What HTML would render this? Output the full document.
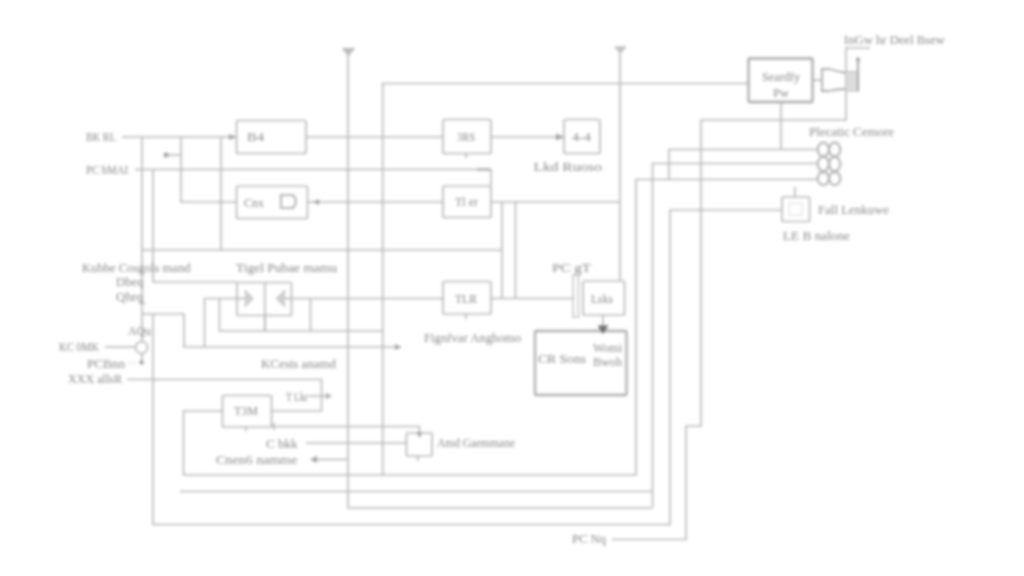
<!DOCTYPE html>
<html><head><meta charset="utf-8"><title>Circuit</title>
<style>
html,body{margin:0;padding:0;background:#fff;width:1024px;height:576px;overflow:hidden}
svg{display:block;filter:blur(1.45px)}
text{font-family:"Liberation Serif",serif;font-size:11.5px;fill:#888888;dominant-baseline:central}
.l{fill:none;stroke:#b6b6b6;stroke-width:1.6}
.b{fill:#fff;stroke:#b8b8b8;stroke-width:1.7}
.bd{fill:#fff;stroke:#acacac;stroke-width:2.3}
.ar{fill:#a2a2a2;stroke:none}
</style></head>
<body>
<svg width="1024" height="576" viewBox="0 0 1024 576">
<g class="l">
<!-- top rails -->
<polyline points="122,137 236,137"/>
<polyline points="306,137 443,137"/>
<polyline points="491,137 564,137"/>
<polyline points="135,169.5 491,169.5 491,186"/>
<polyline points="142,137 142,362"/>
<polyline points="181,137 181,202 236,202"/>
<polyline points="166,155 181,155"/>
<polyline points="221,137 221,250"/>
<polyline points="142,250 502,250"/>
<polyline points="153,169.5 153,282 237,282"/>
<polyline points="348,55 348,508 652.5,508"/>
<polyline points="382.7,475 382.7,83.5 748.5,83.5"/>
<polyline points="620,53 620,282"/>
<polyline points="307,202 443,202"/>
<polyline points="491,202 620,202"/>
<polyline points="502,202 502,298.5"/>
<polyline points="515.5,202 515.5,298.5"/>
<polyline points="204.5,346.5 204.5,298.5 250,298.5"/>
<polyline points="280,298.5 443,298.5"/>
<polyline points="219.5,298.5 219.5,331 382.7,331"/>
<polyline points="310.5,298.5 310.5,331"/>
<polyline points="265,282 265,331"/>
<polyline points="491,298.5 574.5,298.5"/>

<polyline points="603,315 603,328"/>
<polyline points="142,314 184,314 184,347 401,347"/>
<polyline points="153,314 153,524.5 670,524.5 670,210 782,210"/>
<polyline points="105,347 135.5,347"/>
<polyline points="127,379.5 321.5,379.5 321.5,411 271.5,411"/>
<polyline points="183.5,475 183.5,411 222.5,411"/>
<polyline points="271.5,426.5 419.5,426.5 419.5,433"/>
<polyline points="306,443 406,443"/>
<polyline points="316,459.5 348,459.5"/>
<polyline points="183.5,475 636,475 636,179.5 817,179.5"/>
<polyline points="180,491.5 652.5,491.5"/>
<polyline points="652.5,507 652.5,163.5 817,163.5"/>
<polyline points="612,539.5 686,539.5 686,426 701,426 701,120 846,120 846,48 870,48"/>
<polyline points="781,102 781,149.5"/>
<polyline points="669,179.5 669,149.5 817,149.5"/>
<polyline points="812.5,80.2 822,80.2"/>
<polyline points="858,58 858,92"/>
<polyline points="795,187 795,197"/>
<polyline points="417.8,456 417.8,461"/>
<polyline points="466,153 466,158"/>
<polyline points="466,314 466,319"/>

<polyline points="246,427 246,431"/><polyline points="274,423 274,430"/>
</g>
<!-- boxes -->
<g class="b">
<rect x="236.5" y="120.5" width="69.5" height="33" rx="2"/>
<rect x="443" y="119.5" width="48" height="34" rx="2"/>
<rect x="564" y="119.5" width="36" height="34" rx="2"/>
<rect x="236.5" y="186" width="71" height="32.5" rx="2"/>
<rect x="443" y="186" width="48" height="31.5" rx="2"/>
<rect x="237" y="282.5" width="54.5" height="33" rx="1"/>
<rect x="443" y="281.5" width="48" height="32.5" rx="2"/>
<rect x="583" y="281" width="41.5" height="34" rx="2"/>
<rect x="222.5" y="395.5" width="49" height="31.5" rx="1"/>
<rect x="406.5" y="433" width="25.5" height="23" rx="1"/>
<rect x="748.5" y="58.5" width="64" height="43.5" rx="1" style="stroke:#a8a8a8;stroke-width:2.3"/>
<rect x="782" y="197" width="27.5" height="24.5" rx="1"/>
</g>
<rect class="bd" x="535" y="331" width="91.5" height="64" rx="1"/>
<line class="l" x1="265" y1="282" x2="265" y2="331"/>
<polyline class="l" points="236,298.5 250,298.5"/><polyline class="l" points="280,298.5 292,298.5"/>
<!-- D shape in Cnx -->
<path class="l" d="M281,195 H293 Q299,201.5 293,208 H281 Z" style="stroke-width:2.2"/>
<!-- circle -->
<circle class="l" cx="141.6" cy="347.5" r="6" style="fill:#fff"/>
<circle class="ar" cx="141.6" cy="362.5" r="2.2"/>
<circle class="ar" cx="166" cy="155" r="2.5"/>
<!-- chevrons in split box -->
<path d="M245,290 L253.5,298.5 L245,307 L246,298.5 Z" style="fill:#cfcfcf;stroke:#c4c4c4;stroke-width:1"/>
<path d="M285,290 L276,298.5 L285,307 L284,298.5 Z" style="fill:#cfcfcf;stroke:#c4c4c4;stroke-width:1"/>
<!-- arrows -->

<path class="ar" d="M564,137 L556,133.5 L556,140.5 Z"/>
<path class="ar" d="M236,137 L229,134 L229,140 Z"/>
<path class="ar" d="M313,202 L319,199 L319,205 Z"/>
<path class="ar" d="M401,347 L395,344 L395,350 Z"/>
<path class="ar" d="M310,459.5 L317,456 L317,463 Z"/>
<path class="ar" d="M332,396 L326,393 L326,399 Z"/>
<polyline points="477,169.5 490,169.5" style="fill:none;stroke:#a0a0a0;stroke-width:2"/>
<path class="ar" d="M419.5,438 L416.5,432 L422.5,432 Z"/>
<!-- antenna triangles -->
<path d="M342.5,48.5 L354.5,48.5 L348.3,55.5 Z" style="fill:#bdbdbd;stroke:#b0b0b0;stroke-width:1"/>
<path d="M614.8,47 L626,47 L620.4,53 Z" style="fill:#c0c0c0;stroke:#b4b4b4;stroke-width:1"/>
<!-- T Lkr arrow line -->
<polyline class="l" points="309,396 330,396"/>
<!-- coils -->
<g style="fill:none;stroke:#b0b0b0;stroke-width:2">
<ellipse cx="823.3" cy="149.5" rx="5.6" ry="7"/><ellipse cx="834.7" cy="149.5" rx="5.6" ry="7"/>
<ellipse cx="823.3" cy="164" rx="5.6" ry="7.3"/><ellipse cx="834.7" cy="164" rx="5.6" ry="7.3"/>
<ellipse cx="823.3" cy="178.5" rx="5.6" ry="6.5"/><ellipse cx="834.7" cy="178.5" rx="5.6" ry="6.5"/>
</g>
<!-- connector -->
<path class="l" d="M822,69 L829,69 Q837,71 846,73 L846,89 Q837,89 829,91 L822,91 Z" style="stroke-width:1.8;stroke:#a8a8a8"/>
<rect x="845.5" y="71.5" width="12" height="19.5" style="fill:#dcdcdc;stroke:#bdbdbd;stroke-width:1"/>
<polyline class="l" points="858,59 858,91" style="stroke:#9c9c9c"/>
<circle cx="858" cy="59.5" r="2" style="fill:#999"/>
<path d="M603,334 L597.5,325.5 L608.5,325.5 Z" style="fill:#6e6e6e"/>
<rect x="573" y="275" width="5.5" height="42" style="fill:none;stroke:#c6c6c6;stroke-width:1.6"/>
<rect x="789" y="203" width="13" height="12" style="fill:none;stroke:#e2e2e2;stroke-width:1.2"/>
<polyline points="127,363 136,363" style="fill:none;stroke:#cfcfcf;stroke-width:1.2;stroke-dasharray:2 1.5"/>
<polyline points="138,303 146,303" style="fill:none;stroke:#c4c4c4;stroke-width:1.4"/>
<!-- texts -->
<text x="86" y="137" textLength="30" lengthAdjust="spacingAndGlyphs">BK RL</text>
<text x="86" y="169.5" textLength="42" lengthAdjust="spacingAndGlyphs">PC bMAI</text>
<text x="247" y="136.5" textLength="17" lengthAdjust="spacingAndGlyphs">B4</text>
<text x="457" y="136.5" textLength="18" lengthAdjust="spacingAndGlyphs">3RS</text>
<text x="572" y="136.5" textLength="19" lengthAdjust="spacingAndGlyphs">4-4</text>
<text x="533.5" y="167" textLength="68.5" lengthAdjust="spacingAndGlyphs">Lkd Ruoso</text>
<text x="244" y="202.5" textLength="20" lengthAdjust="spacingAndGlyphs">Cnx</text>
<text x="455" y="201.5" textLength="23" lengthAdjust="spacingAndGlyphs">Tl er</text>
<text x="82" y="267.5" textLength="108.5" lengthAdjust="spacingAndGlyphs">Kubbe Cosgols mand</text>
<text x="116" y="282" textLength="27.5" lengthAdjust="spacingAndGlyphs">Dbeq</text>
<text x="116" y="297" textLength="27.5" lengthAdjust="spacingAndGlyphs">Qhrq</text>
<text x="236" y="267.5" textLength="101" lengthAdjust="spacingAndGlyphs">Tigel Pubae mamu</text>
<text x="455" y="298.5" textLength="22" lengthAdjust="spacingAndGlyphs">TLR</text>
<text x="552" y="267.5" textLength="39" lengthAdjust="spacingAndGlyphs">PC gT</text>
<text x="591" y="299" textLength="22" lengthAdjust="spacingAndGlyphs">Lsks</text>
<text x="128" y="331" textLength="23" lengthAdjust="spacingAndGlyphs">AQu</text>
<text x="59" y="347" textLength="40" lengthAdjust="spacingAndGlyphs">KC 0MK</text>
<text x="87" y="363.5" textLength="38" lengthAdjust="spacingAndGlyphs">PCBnn</text>
<text x="68" y="379" textLength="54" lengthAdjust="spacingAndGlyphs">XXX allsR</text>
<text x="261" y="364" textLength="75" lengthAdjust="spacingAndGlyphs">KCests anamd</text>
<text x="424" y="337.5" textLength="97" lengthAdjust="spacingAndGlyphs">Fignfvar Anghomo</text>
<text x="538" y="358.5" textLength="48" lengthAdjust="spacingAndGlyphs">CR Sons</text>
<text x="593" y="348" textLength="29" lengthAdjust="spacingAndGlyphs">Womi</text>
<text x="593" y="362" textLength="29" lengthAdjust="spacingAndGlyphs">Bwoh</text>
<text x="234" y="411" textLength="24" lengthAdjust="spacingAndGlyphs">T3M</text>
<text x="286" y="396.5" textLength="22" lengthAdjust="spacingAndGlyphs">T Lkr</text>
<text x="266" y="444" textLength="31.5" lengthAdjust="spacingAndGlyphs">C bkk</text>
<text x="216" y="460" textLength="81.5" lengthAdjust="spacingAndGlyphs">Cnen6 namme</text>
<text x="437" y="443" textLength="78" lengthAdjust="spacingAndGlyphs">Amd Gaemmane</text>
<text x="572" y="539" textLength="34" lengthAdjust="spacingAndGlyphs">PC Nq</text>
<text x="762" y="77" textLength="38" lengthAdjust="spacingAndGlyphs">Seardfy</text>
<text x="773" y="92.5" textLength="16" lengthAdjust="spacingAndGlyphs">Pw</text>
<text x="844" y="39.5" textLength="101" lengthAdjust="spacingAndGlyphs">InGw hr Deel Bsew</text>
<text x="809" y="132" textLength="85" lengthAdjust="spacingAndGlyphs">Plecatic Cemore</text>
<text x="818" y="209.5" textLength="71" lengthAdjust="spacingAndGlyphs">Fall Lenkuwe</text>
<text x="783" y="236" textLength="67" lengthAdjust="spacingAndGlyphs">LE B nalone</text>
</svg>
</body></html>
